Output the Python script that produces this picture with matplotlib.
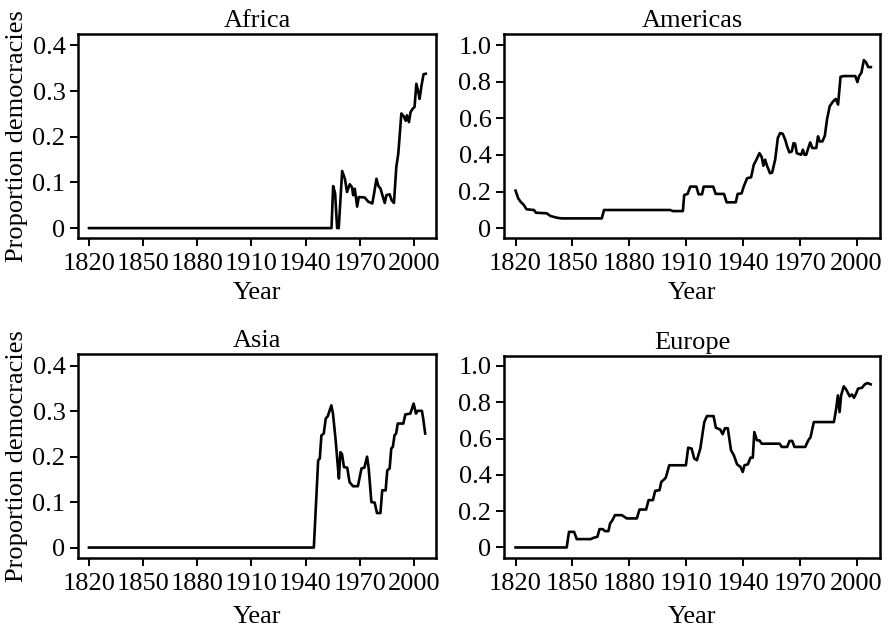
import numpy as np
import matplotlib
matplotlib.use("Agg")
import matplotlib.pyplot as plt
from matplotlib.ticker import FuncFormatter

plt.rcParams["font.family"] = ["Liberation Serif", "DejaVu Serif"]
plt.rcParams["font.size"] = 19

# ---- data (year, proportion of democracies) ----
africa_year = [1820, 1954.4, 1955.3, 1956.4, 1957.5, 1958.4, 1960.3, 1961.8, 1963.0, 1964.5,
               1965.8, 1966.4, 1967.3, 1968.6, 1969.5, 1972.8, 1974.7, 1977.0, 1978.0, 1979.3,
               1980.4, 1981.5, 1982.6, 1983.9, 1984.8, 1986.6, 1987.7, 1989.0, 1990.3, 1991.4,
               1993.1, 1994.4, 1995.5, 1996.2, 1997.3, 1998.2, 1999.5, 2000.4, 2001.4, 2002.5,
               2003.2, 2004.3, 2005.4, 2006.6]
africa_value = [0, 0, 0.092, 0.076, 0, 0, 0.125, 0.108, 0.079, 0.096,
                0.089, 0.072, 0.086, 0.047, 0.068, 0.067, 0.058, 0.054, 0.076, 0.108,
                0.092, 0.087, 0.072, 0.055, 0.072, 0.074, 0.061, 0.055, 0.134, 0.163,
                0.251, 0.245, 0.235, 0.247, 0.232, 0.254, 0.262, 0.265, 0.316, 0.298,
                0.283, 0.313, 0.337, 0.338]

americas_year = [1820, 1821.4, 1822.6, 1824.4, 1825.8, 1829.7, 1830.8, 1836.4, 1838.5, 1841.7,
                 1844.3, 1865.5, 1866.7, 1901.6, 1903.0, 1908.3, 1909.0, 1910.8, 1912.2, 1915.4,
                 1916.6, 1918.4, 1919.3, 1924.3, 1925.6, 1930.0, 1931.4, 1936.2, 1937.2, 1939.3,
                 1940.4, 1942.2, 1944.3, 1945.7, 1946.9, 1948.7, 1949.9, 1950.8, 1951.7, 1952.7,
                 1954.3, 1955.4, 1957.0, 1958.4, 1959.6, 1961.0, 1962.3, 1963.3, 1964.5, 1965.8,
                 1966.7, 1967.5, 1968.4, 1970.7, 1971.6, 1972.5, 1973.4, 1974.2, 1975.5, 1976.6,
                 1978.7, 1979.6, 1980.5, 1981.9, 1983.2, 1984.4, 1985.8, 1987.6, 1989.0, 1990.2,
                 1991.5, 1993.3, 1999.3, 2000.4, 2001.3, 2002.5, 2003.8, 2004.9, 2006.1, 2007.5]
americas_value = [0.205, 0.163, 0.145, 0.126, 0.103, 0.099, 0.084, 0.081, 0.066, 0.057,
                  0.053, 0.053, 0.099, 0.099, 0.093, 0.093, 0.181, 0.187, 0.227, 0.227,
                  0.185, 0.185, 0.227, 0.227, 0.187, 0.187, 0.141, 0.141, 0.187, 0.19,
                  0.227, 0.273, 0.278, 0.346, 0.37, 0.41, 0.389, 0.341, 0.374, 0.341,
                  0.30, 0.304, 0.374, 0.493, 0.52, 0.516, 0.484, 0.447, 0.414, 0.42,
                  0.465, 0.462, 0.41, 0.401, 0.429, 0.401, 0.401, 0.429, 0.469, 0.438,
                  0.438, 0.502, 0.474, 0.474, 0.505, 0.597, 0.667, 0.694, 0.707, 0.676,
                  0.828, 0.832, 0.832, 0.799, 0.832, 0.85, 0.919, 0.908, 0.881, 0.881]

asia_year = [1820, 1944.6, 1947.0, 1947.9, 1948.8, 1950.1, 1951.2, 1952.3, 1954.3, 1955.2,
             1956.7, 1958.0, 1958.5, 1959.3, 1960.2, 1961.3, 1963.1, 1964.4, 1966.3, 1969.0,
             1971.0, 1972.6, 1974.1, 1975.0, 1976.5, 1978.3, 1979.6, 1981.5, 1982.5, 1984.4,
             1985.3, 1986.6, 1987.5, 1988.4, 1989.3, 1990.2, 1991.1, 1994.2, 1995.3, 1998.1,
             1999.9, 2001.2, 2002.1, 2004.5, 2005.2, 2006.3]
asia_value = [0, 0, 0.192, 0.196, 0.247, 0.251, 0.284, 0.289, 0.313, 0.295,
              0.236, 0.174, 0.152, 0.21, 0.206, 0.177, 0.176, 0.144, 0.135, 0.135,
              0.174, 0.176, 0.20, 0.174, 0.10, 0.099, 0.076, 0.076, 0.126, 0.126,
              0.17, 0.174, 0.218, 0.222, 0.247, 0.251, 0.273, 0.273, 0.293, 0.295,
              0.317, 0.295, 0.301, 0.301, 0.284, 0.251]

europe_year = [1820, 1847.0, 1848.2, 1850.9, 1852.3, 1859.7, 1861.1, 1863.2, 1864.3, 1866.0,
               1867.2, 1869.0, 1869.9, 1871.1, 1872.5, 1876.1, 1878.7, 1884.0, 1885.4, 1888.9,
               1890.2, 1892.5, 1893.7, 1896.0, 1896.9, 1898.3, 1899.3, 1901.1, 1909.9, 1911.1,
               1912.9, 1914.3, 1915.7, 1917.5, 1919.6, 1921.0, 1924.5, 1925.7, 1928.0, 1929.3,
               1930.5, 1932.0, 1933.7, 1935.2, 1936.9, 1938.7, 1939.9, 1940.8, 1942.6, 1944.0,
               1945.2, 1946.0, 1947.4, 1948.7, 1949.9, 1959.3, 1960.5, 1963.3, 1964.6, 1966.0,
               1967.2, 1972.9, 1974.3, 1975.7, 1977.4, 1988.0, 1989.2, 1990.1, 1991.0, 1991.8,
               1993.2, 1994.5, 1996.3, 1997.5, 1998.6, 1999.8, 2000.7, 2002.8, 2004.3, 2005.7,
               2007.4]
europe_value = [0, 0, 0.086, 0.086, 0.046, 0.046, 0.053, 0.059, 0.101, 0.101,
                0.09, 0.09, 0.132, 0.15, 0.178, 0.178, 0.16, 0.16, 0.209, 0.209,
                0.261, 0.261, 0.312, 0.316, 0.361, 0.374, 0.385, 0.453, 0.453, 0.55,
                0.545, 0.49, 0.481, 0.545, 0.691, 0.724, 0.724, 0.66, 0.65, 0.624,
                0.657, 0.657, 0.536, 0.508, 0.458, 0.444, 0.416, 0.453, 0.458, 0.495,
                0.495, 0.636, 0.59, 0.59, 0.572, 0.572, 0.554, 0.554, 0.587, 0.587,
                0.554, 0.554, 0.587, 0.609, 0.691, 0.691, 0.765, 0.838, 0.746, 0.838,
                0.888, 0.87, 0.833, 0.843, 0.825, 0.85, 0.875, 0.88, 0.899, 0.906,
                0.899]

year_ticks = [1820, 1850, 1880, 1910, 1940, 1970, 2000]
small_ticks = [0, 0.1, 0.2, 0.3, 0.4]
large_ticks = [0, 0.2, 0.4, 0.6, 0.8, 1.0]

panels = [
    ("Africa", africa_year, africa_value, small_ticks, (-0.022, 0.425), [0.0874, 0.622, 0.4014, 0.324]),
    ("Americas", americas_year, americas_value, large_ticks, (-0.055, 1.062), [0.565, 0.622, 0.4215, 0.324]),
    ("Asia", asia_year, asia_value, small_ticks, (-0.023, 0.426), [0.0874, 0.1143, 0.4014, 0.3237]),
    ("Europe", europe_year, europe_value, large_ticks, (-0.058, 1.055), [0.565, 0.1143, 0.4215, 0.3206]),
]


def ylab(v, pos):
    if v == 0:
        return "0"
    return "%.1f" % v


fig = plt.figure(figsize=(8.92, 6.30), dpi=100)
for i, (name, yrs, vals, yt, ylim, rect) in enumerate(panels):
    ax = fig.add_axes(rect)
    ax.plot(yrs, vals, color="black", lw=1.9)
    ax.set_xlim(1813.9, 2012.3)
    ax.set_ylim(*ylim)
    ax.set_xticks(year_ticks)
    ax.set_yticks(yt)
    ax.yaxis.set_major_formatter(FuncFormatter(ylab))
    ax.tick_params(direction="out", length=6, width=1.4, labelsize=19, pad=3)
    ax.tick_params(axis="x", pad=5)
    for s in ax.spines.values():
        s.set_linewidth(1.8)
    ax.set_title(name, fontsize=19, pad=5)
    pad = 5 if i < 2 else 8
    ax.set_xlabel("Year", fontsize=19, labelpad=pad)
    if i % 2 == 0:
        ax.set_ylabel("Proportion democracies", fontsize=19, labelpad=3)

fig.savefig("out.png", dpi=100)
